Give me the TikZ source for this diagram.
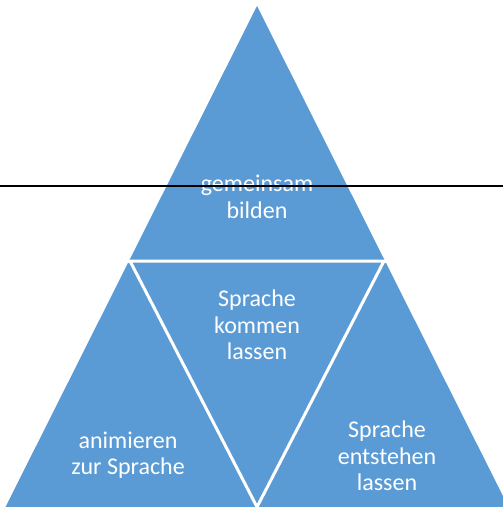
\documentclass[tikz,border=0pt]{standalone}
\usepackage{fontspec}
\setmainfont{Carlito}
\definecolor{pyr}{HTML}{5B9BD5}
\begin{document}
\begin{tikzpicture}[x=1pt,y=-1pt,
  lbl/.style={text=white,font=\fontsize{24}{26.5}\selectfont,align=center,inner sep=0pt},
  sep/.style={draw=white,line width=3pt}]
\useasboundingbox (0,0) rectangle (503,507);
\begin{scope}
\clip (0,0) rectangle (503,507);
\coordinate (apex) at (257,6);
\coordinate (bl) at (5.5,507);
\coordinate (br) at (508.5,507);
\coordinate (ml) at (130,261);
\coordinate (mr) at (384,261);
\coordinate (mb) at (257,507);
\fill[pyr] (apex) -- (br) -- (bl) -- cycle;
\draw[sep] (ml) -- (mr) -- (mb) -- cycle;
\draw[sep] (ml) -- ++(-10,0);
\draw[sep] (mr) -- ++(10,0);
\end{scope}
\node[lbl] (t1) at (257,197) {gemeinsam\\bilden};
\node[lbl] (t2) at (257,325) {Sprache\\kommen\\lassen};
\node[lbl] (t3) at (128,455) {animieren\\zur Sprache};
\node[lbl] (t4) at (387,456) {Sprache\\entstehen\\lassen};
\coordinate (h1) at (0,185.5);
\coordinate (h2) at (503,185.5);
\draw[line width=2pt] (h1) -- (h2);
\end{tikzpicture}
\end{document}
